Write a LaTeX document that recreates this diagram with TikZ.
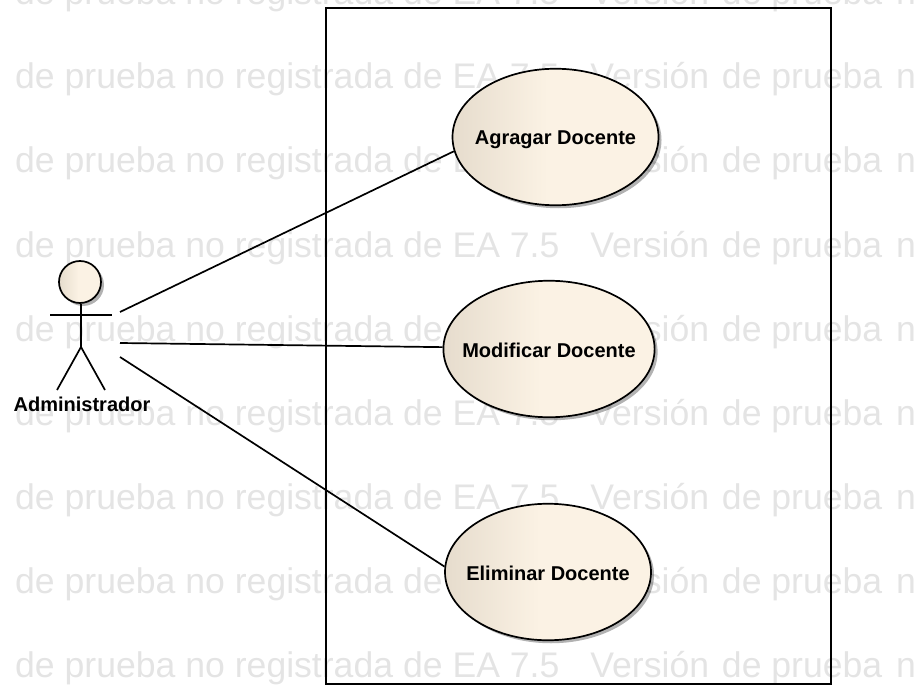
\documentclass[tikz,border=0pt]{standalone}
\usepackage{fontspec}
\setmainfont{Liberation Sans}
\usetikzlibrary{shapes.geometric,shadows,fadings}
\definecolor{ucleft}{HTML}{E6DCCD}
\definecolor{ucright}{HTML}{FBF2E4}
\definecolor{wm}{HTML}{E4E4E4}
\pgfdeclarehorizontalshading{ucfill}{100bp}{color(0bp)=(ucleft); color(25bp)=(ucleft); color(48bp)=(ucright); color(100bp)=(ucright)}
\tikzset{
  edge/.style={line width=1.7pt,black},
  usecase/.style={ellipse,draw=black,line width=1.7pt,minimum width=206pt,minimum height=136.5pt,inner xsep=-12pt,inner ysep=0pt,text height=18pt,text depth=2pt,shading=ucfill,
    drop shadow={shadow xshift=3pt,shadow yshift=-3pt,fill=black,opacity=.3},font=\fontsize{20pt}{24pt}\bfseries},
  watermark/.style={anchor=base west,inner sep=0pt,text=wm,font=\fontsize{35.6pt}{40pt}\selectfont},
  lbl/.style={inner sep=0pt,text height=18pt,text depth=2pt,font=\fontsize{20pt}{24pt}\bfseries}
}
\begin{document}
\begin{tikzpicture}[x=1pt,y=-1pt]
\useasboundingbox (0,0) rectangle (915,687);
\begin{scope}
\clip (0,0) rectangle (915,687);
\foreach \i/\yy in {0/5,1/89,2/173,3/257,4/341,5/425,6/509,7/593,8/677}
  \node[watermark] (w\i) at (15,\yy) {de prueba no registrada de EA 7.5\hspace{31pt}Versión\hspace{3pt} de prueba\hspace{4pt} no registrada};
\end{scope}
\node[draw=black,line width=1.7pt,minimum width=505pt,minimum height=676pt,inner sep=0pt] (sys) at (578.5,346) {};
\node[usecase] (uc1) at (555.5,137) {Agragar Docente};
\node[usecase] (uc2) at (549,349) {Modificar Docente};
\node[usecase] (uc3) at (548,572) {Eliminar Docente};
% actor
\node[circle,draw=black,line width=1.7pt,minimum size=42pt,inner sep=0pt,shading=ucfill,
  drop shadow={shadow xshift=3pt,shadow yshift=-3pt,fill=black,opacity=.3}] (head) at (80,282) {};
\coordinate (hip) at (81,347);
\coordinate (armL) at (50,315);
\coordinate (armR) at (112,315);
\coordinate (footL) at (57,390);
\coordinate (footR) at (105,390);
\draw[edge] (head.south) ++(1,0) -- (hip);
\draw[edge] (armL) -- (armR);
\draw[edge] (footL) -- (hip) -- (footR);
\node[lbl] (actorlabel) at (82,403) {Administrador};
\coordinate (a1) at (120,312);
\coordinate (a2) at (120,343);
\coordinate (a3) at (120,357);
\draw[edge] (a1) -- (uc1.188);
\draw[edge] (a2) -- (uc2.179);
\draw[edge] (a3) -- (uc3.177);
\end{tikzpicture}
\end{document}
